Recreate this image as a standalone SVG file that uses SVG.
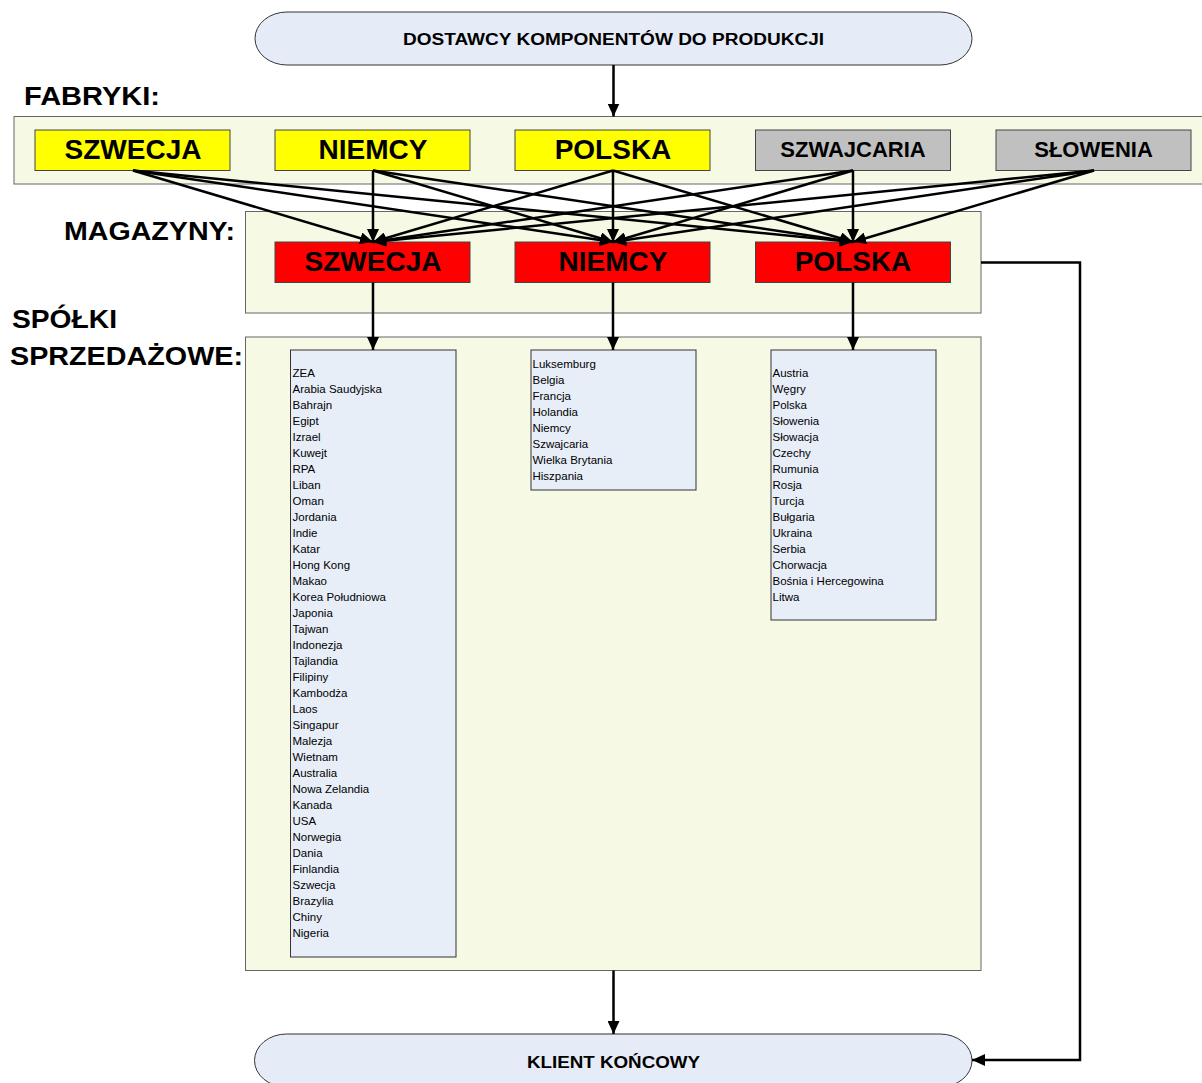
<svg xmlns="http://www.w3.org/2000/svg" width="1202" height="1083" viewBox="0 0 1202 1083">
<style>
.term{fill:#E6ECF7;stroke:#333;stroke-width:1}
.cont{fill:#F6F9E4;stroke:#666;stroke-width:1}
.fy{fill:#FFFF00;stroke:#444;stroke-width:1}
.fg{fill:#C0C0C0;stroke:#444;stroke-width:1}
.mr{fill:#FF0000;stroke:#444;stroke-width:1}
.lst{fill:#E8EEF8;stroke:#333;stroke-width:1}
.hd{font-family:"Liberation Sans",Arial,sans-serif;font-weight:bold;fill:#000}
.big{font-size:28px;text-anchor:middle}
.mid{font-size:22px;text-anchor:middle}
.sec{font-size:25px}
.tt{font-size:16px;text-anchor:middle}
.li{font-family:"Liberation Sans",Arial,sans-serif;font-size:11.5px;fill:#000}
.c{fill:none;stroke:#000;stroke-width:2.5}
</style>
<defs>
<marker id="ah" markerUnits="userSpaceOnUse" markerWidth="14" markerHeight="12" refX="13" refY="6" orient="auto">
<path d="M0,0 L13,6 L0,12 z" fill="#000"/>
</marker>
</defs>

<!-- section labels -->
<text class="hd sec" x="24" y="105" textLength="136" lengthAdjust="spacingAndGlyphs">FABRYKI:</text>
<text class="hd sec" x="64" y="240" textLength="171" lengthAdjust="spacingAndGlyphs">MAGAZYNY:</text>
<text class="hd sec" x="12" y="328" textLength="105" lengthAdjust="spacingAndGlyphs">SPÓŁKI</text>
<text class="hd sec" x="10" y="365" textLength="233" lengthAdjust="spacingAndGlyphs">SPRZEDAŻOWE:</text>

<!-- containers -->
<rect class="cont" x="14" y="116.5" width="1200" height="67.5"/>
<rect class="cont" x="245.5" y="211.5" width="735.5" height="101.5"/>
<rect class="cont" x="245.5" y="337" width="735.5" height="633.5"/>

<g id="dostawcy">
<rect class="term" x="255" y="12" width="717" height="53" rx="32" ry="27"/>
<text class="hd tt" x="613.5" y="44.5" textLength="421" lengthAdjust="spacingAndGlyphs">DOSTAWCY KOMPONENTÓW DO PRODUKCJI</text>
</g>

<g id="f-szwecja"><rect class="fy" x="35" y="130" width="195" height="40.5"/><text class="hd big" x="133" y="158.5">SZWECJA</text></g>
<g id="f-niemcy"><rect class="fy" x="275" y="130" width="195" height="40.5"/><text class="hd big" x="373" y="158.5">NIEMCY</text></g>
<g id="f-polska"><rect class="fy" x="515" y="130" width="195" height="40.5"/><text class="hd big" x="613" y="158.5">POLSKA</text></g>
<g id="f-szwajcaria"><rect class="fg" x="755.5" y="130" width="195" height="40.5"/><text class="hd mid" x="853" y="157">SZWAJCARIA</text></g>
<g id="f-slowenia"><rect class="fg" x="996" y="130" width="195" height="40.5"/><text class="hd mid" x="1093.5" y="157">SŁOWENIA</text></g>

<g id="m-szwecja"><rect class="mr" x="275" y="242" width="195" height="40.5"/><text class="hd big" x="373" y="271">SZWECJA</text></g>
<g id="m-niemcy"><rect class="mr" x="515" y="242" width="195" height="40.5"/><text class="hd big" x="613" y="271">NIEMCY</text></g>
<g id="m-polska"><rect class="mr" x="755.5" y="242" width="195" height="40.5"/><text class="hd big" x="853" y="271">POLSKA</text></g>

<g id="s-szwecja">
<rect class="lst" x="290.5" y="350" width="165.5" height="607"/>
<text class="li" x="292.5" y="377.3">
<tspan x="292.5" dy="0">ZEA</tspan>
<tspan x="292.5" dy="16">Arabia Saudyjska</tspan>
<tspan x="292.5" dy="16">Bahrajn</tspan>
<tspan x="292.5" dy="16">Egipt</tspan>
<tspan x="292.5" dy="16">Izrael</tspan>
<tspan x="292.5" dy="16">Kuwejt</tspan>
<tspan x="292.5" dy="16">RPA</tspan>
<tspan x="292.5" dy="16">Liban</tspan>
<tspan x="292.5" dy="16">Oman</tspan>
<tspan x="292.5" dy="16">Jordania</tspan>
<tspan x="292.5" dy="16">Indie</tspan>
<tspan x="292.5" dy="16">Katar</tspan>
<tspan x="292.5" dy="16">Hong Kong</tspan>
<tspan x="292.5" dy="16">Makao</tspan>
<tspan x="292.5" dy="16">Korea Południowa</tspan>
<tspan x="292.5" dy="16">Japonia</tspan>
<tspan x="292.5" dy="16">Tajwan</tspan>
<tspan x="292.5" dy="16">Indonezja</tspan>
<tspan x="292.5" dy="16">Tajlandia</tspan>
<tspan x="292.5" dy="16">Filipiny</tspan>
<tspan x="292.5" dy="16">Kambodża</tspan>
<tspan x="292.5" dy="16">Laos</tspan>
<tspan x="292.5" dy="16">Singapur</tspan>
<tspan x="292.5" dy="16">Malezja</tspan>
<tspan x="292.5" dy="16">Wietnam</tspan>
<tspan x="292.5" dy="16">Australia</tspan>
<tspan x="292.5" dy="16">Nowa Zelandia</tspan>
<tspan x="292.5" dy="16">Kanada</tspan>
<tspan x="292.5" dy="16">USA</tspan>
<tspan x="292.5" dy="16">Norwegia</tspan>
<tspan x="292.5" dy="16">Dania</tspan>
<tspan x="292.5" dy="16">Finlandia</tspan>
<tspan x="292.5" dy="16">Szwecja</tspan>
<tspan x="292.5" dy="16">Brazylia</tspan>
<tspan x="292.5" dy="16">Chiny</tspan>
<tspan x="292.5" dy="16">Nigeria</tspan>
</text>
</g>

<g id="s-niemcy">
<rect class="lst" x="531" y="350" width="165" height="140"/>
<text class="li" x="532.5" y="368">
<tspan x="532.5" dy="0">Luksemburg</tspan>
<tspan x="532.5" dy="16">Belgia</tspan>
<tspan x="532.5" dy="16">Francja</tspan>
<tspan x="532.5" dy="16">Holandia</tspan>
<tspan x="532.5" dy="16">Niemcy</tspan>
<tspan x="532.5" dy="16">Szwajcaria</tspan>
<tspan x="532.5" dy="16">Wielka Brytania</tspan>
<tspan x="532.5" dy="16">Hiszpania</tspan>
</text>
</g>

<g id="s-polska">
<rect class="lst" x="771" y="350" width="165" height="270"/>
<text class="li" x="772.5" y="377">
<tspan x="772.5" dy="0">Austria</tspan>
<tspan x="772.5" dy="16">Węgry</tspan>
<tspan x="772.5" dy="16">Polska</tspan>
<tspan x="772.5" dy="16">Słowenia</tspan>
<tspan x="772.5" dy="16">Słowacja</tspan>
<tspan x="772.5" dy="16">Czechy</tspan>
<tspan x="772.5" dy="16">Rumunia</tspan>
<tspan x="772.5" dy="16">Rosja</tspan>
<tspan x="772.5" dy="16">Turcja</tspan>
<tspan x="772.5" dy="16">Bułgaria</tspan>
<tspan x="772.5" dy="16">Ukraina</tspan>
<tspan x="772.5" dy="16">Serbia</tspan>
<tspan x="772.5" dy="16">Chorwacja</tspan>
<tspan x="772.5" dy="16">Bośnia i Hercegowina</tspan>
<tspan x="772.5" dy="16">Litwa</tspan>
</text>
</g>

<g id="klient">
<rect class="term" x="254.5" y="1034" width="717.5" height="53" rx="32" ry="27"/>
<text class="hd tt" x="613.5" y="1067.5" textLength="173" lengthAdjust="spacingAndGlyphs">KLIENT KOŃCOWY</text>
</g>

<g id="connectors">
<line class="c" x1="613.5" y1="65" x2="613.5" y2="116.5" marker-end="url(#ah)"/>
<line class="c" x1="133" y1="170.5" x2="373" y2="242" marker-end="url(#ah)"/>
<line class="c" x1="133" y1="170.5" x2="613" y2="242" marker-end="url(#ah)"/>
<line class="c" x1="133" y1="170.5" x2="853" y2="242" marker-end="url(#ah)"/>
<line class="c" x1="373" y1="170.5" x2="373" y2="242" marker-end="url(#ah)"/>
<line class="c" x1="373" y1="170.5" x2="613" y2="242" marker-end="url(#ah)"/>
<line class="c" x1="373" y1="170.5" x2="853" y2="242" marker-end="url(#ah)"/>
<line class="c" x1="613" y1="170.5" x2="373" y2="242" marker-end="url(#ah)"/>
<line class="c" x1="613" y1="170.5" x2="613" y2="242" marker-end="url(#ah)"/>
<line class="c" x1="613" y1="170.5" x2="853" y2="242" marker-end="url(#ah)"/>
<line class="c" x1="853" y1="170.5" x2="373" y2="242" marker-end="url(#ah)"/>
<line class="c" x1="853" y1="170.5" x2="613" y2="242" marker-end="url(#ah)"/>
<line class="c" x1="853" y1="170.5" x2="853" y2="242" marker-end="url(#ah)"/>
<line class="c" x1="1094" y1="170.5" x2="373" y2="242" marker-end="url(#ah)"/>
<line class="c" x1="1094" y1="170.5" x2="613" y2="242" marker-end="url(#ah)"/>
<line class="c" x1="1094" y1="170.5" x2="853" y2="242" marker-end="url(#ah)"/>
<line class="c" x1="373" y1="282.5" x2="373" y2="350" marker-end="url(#ah)"/>
<line class="c" x1="613" y1="282.5" x2="613" y2="350" marker-end="url(#ah)"/>
<line class="c" x1="853" y1="282.5" x2="853" y2="350" marker-end="url(#ah)"/>
<line class="c" x1="613.5" y1="970.5" x2="613.5" y2="1034" marker-end="url(#ah)"/>
<path class="c" d="M981,262.5 H1080 V1060 H972" stroke-width="3" marker-end="url(#ah)"/>
</g>
</svg>
